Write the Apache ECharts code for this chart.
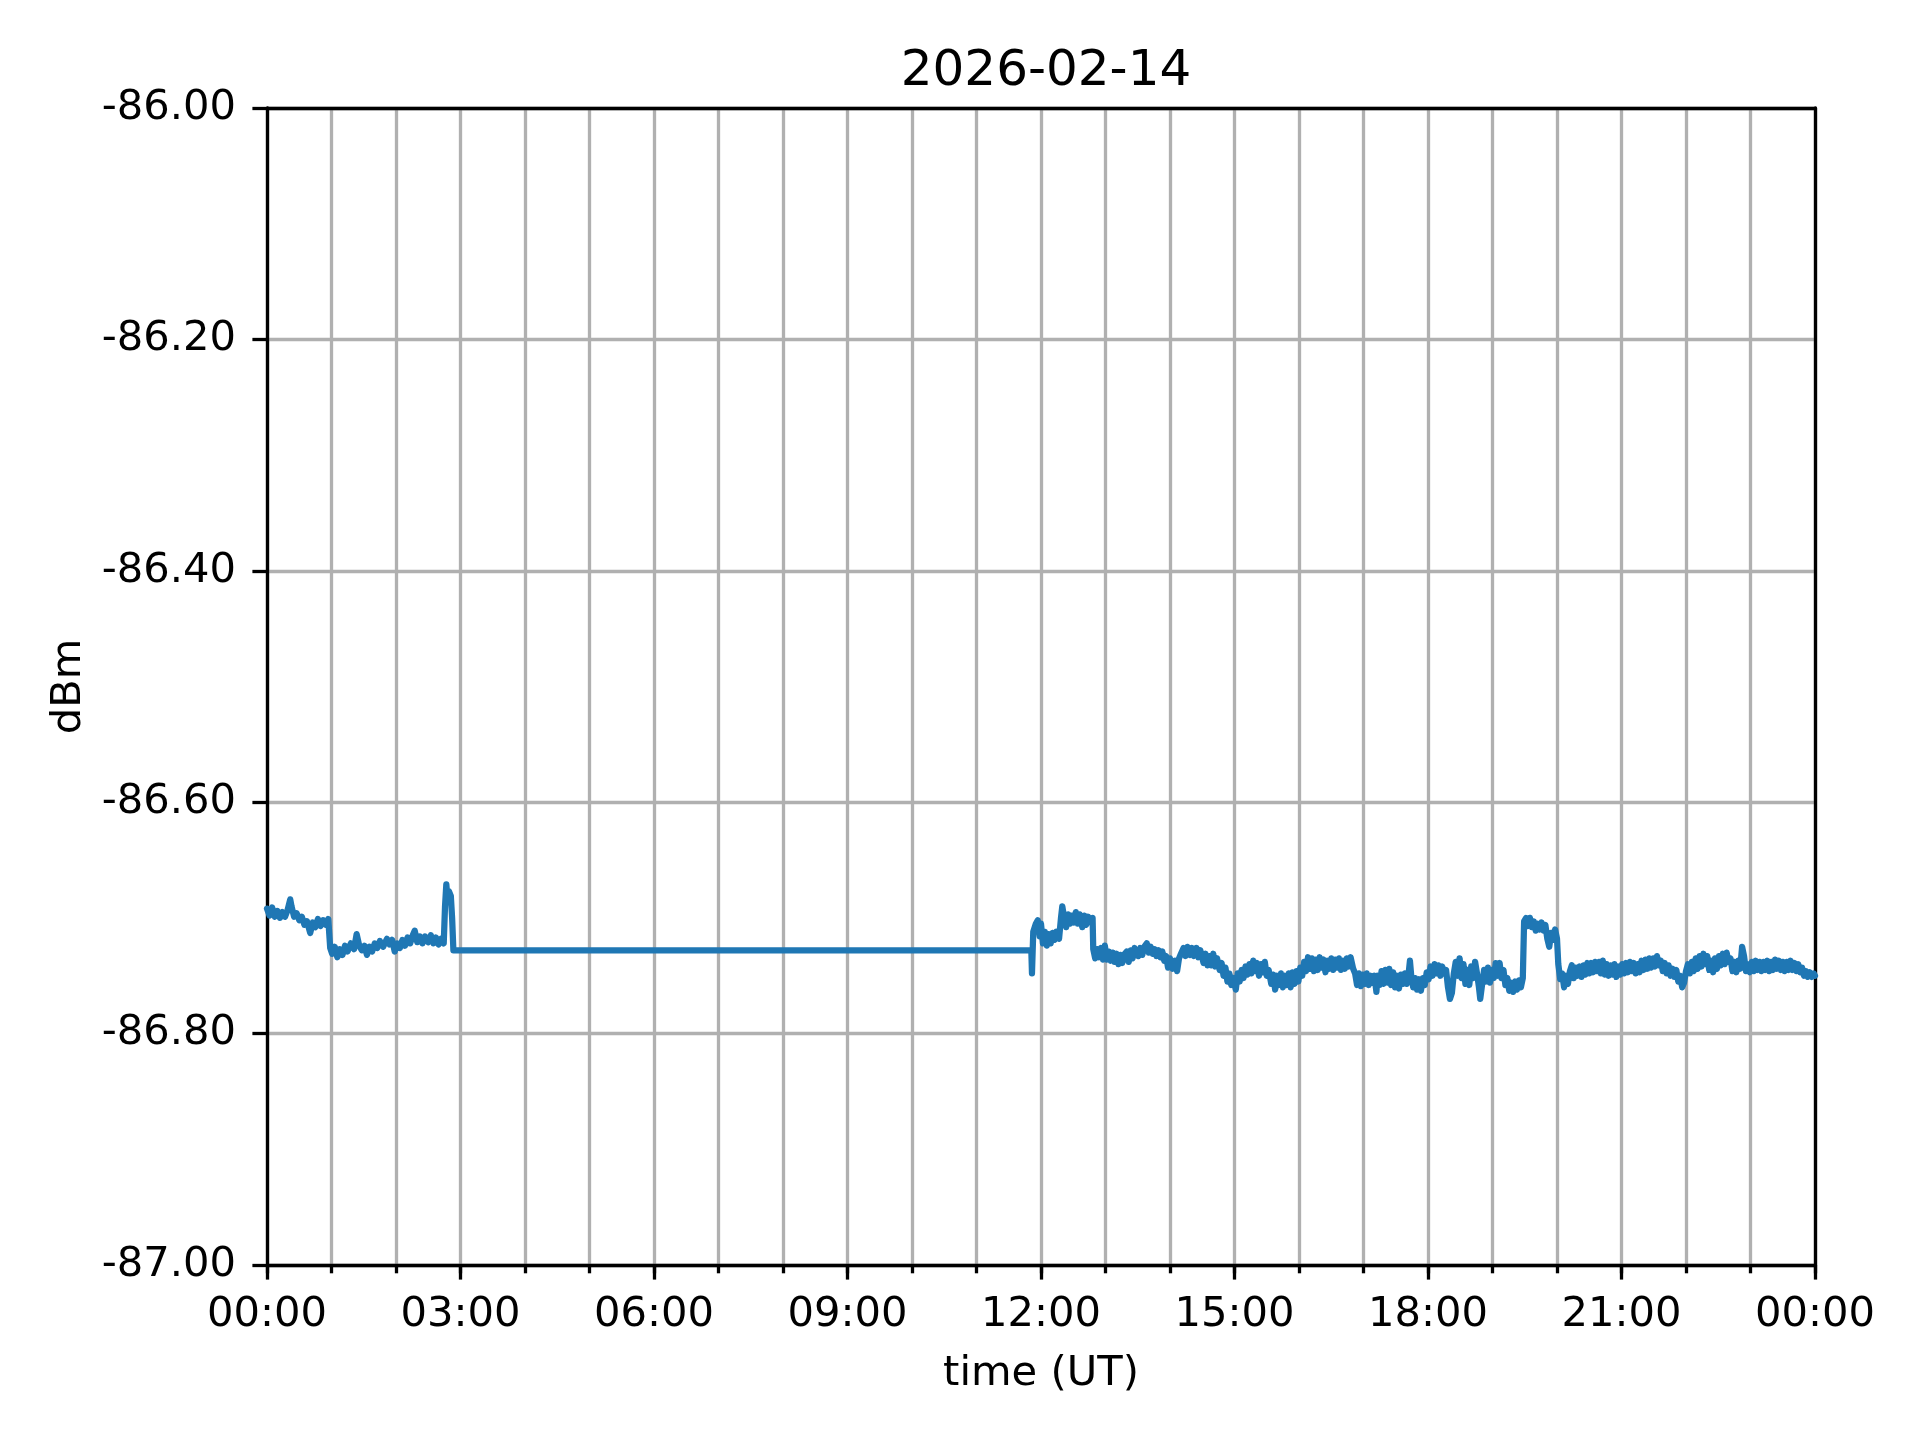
<!DOCTYPE html>
<html>
<head>
<meta charset="utf-8">
<script src="https://cdn.jsdelivr.net/npm/echarts@6/dist/echarts.min.js"></script>
<style>html,body{margin:0;padding:0;background:#fff}#c{width:1920px;height:1440px}</style>
</head>
<body>
<div id="c"></div>
<script>
const title = "2026-02-14";
const xName = "time (UT)";
const yName = "dBm";
const yTicks = [-87.0,-86.8,-86.6,-86.4,-86.2,-86.0];
const xTickHours = [0,3,6,9,12,15,18,21,24];
// readings: [hours since 00:00 UT, dBm]
const morning = [[0.00,-86.692],[0.04,-86.698],[0.08,-86.691],[0.12,-86.699],[0.16,-86.694],[0.20,-86.700],[0.24,-86.695],[0.28,-86.699],[0.32,-86.693],[0.36,-86.684],[0.38,-86.690],[0.42,-86.699],[0.46,-86.696],[0.50,-86.702],[0.54,-86.699],[0.58,-86.706],[0.62,-86.703],[0.67,-86.713],[0.71,-86.704],[0.75,-86.708],[0.79,-86.701],[0.83,-86.707],[0.87,-86.702],[0.91,-86.706],[0.95,-86.701],[0.98,-86.726],[1.01,-86.731],[1.05,-86.725],[1.09,-86.734],[1.13,-86.727],[1.17,-86.732],[1.21,-86.724],[1.25,-86.729],[1.30,-86.722],[1.35,-86.727],[1.39,-86.714],[1.43,-86.724],[1.47,-86.728],[1.51,-86.724],[1.55,-86.732],[1.59,-86.725],[1.63,-86.729],[1.67,-86.722],[1.71,-86.726],[1.75,-86.720],[1.80,-86.725],[1.86,-86.718],[1.90,-86.723],[1.94,-86.719],[1.98,-86.729],[2.02,-86.722],[2.06,-86.726],[2.10,-86.719],[2.14,-86.724],[2.18,-86.717],[2.22,-86.722],[2.26,-86.715],[2.29,-86.711],[2.33,-86.721],[2.37,-86.716],[2.41,-86.722],[2.45,-86.716],[2.50,-86.721],[2.54,-86.715],[2.58,-86.722],[2.62,-86.717],[2.66,-86.723],[2.70,-86.718],[2.74,-86.722],[2.76,-86.690],[2.78,-86.671],[2.80,-86.684],[2.82,-86.677],[2.85,-86.681],[2.87,-86.700],[2.89,-86.728],[11.85,-86.728]];
const midday = [[11.86,-86.748],[11.88,-86.712],[11.92,-86.705],[11.95,-86.702],[11.98,-86.716],[12.00,-86.705],[12.03,-86.722],[12.06,-86.712],[12.09,-86.724],[12.12,-86.714],[12.15,-86.722],[12.18,-86.713],[12.21,-86.719],[12.24,-86.712],[12.28,-86.718],[12.31,-86.700],[12.33,-86.690],[12.36,-86.700],[12.39,-86.708],[12.42,-86.697],[12.45,-86.705],[12.48,-86.698],[12.51,-86.704],[12.54,-86.695],[12.57,-86.705],[12.60,-86.697],[12.64,-86.708],[12.67,-86.698],[12.70,-86.706],[12.73,-86.699],[12.77,-86.704],[12.80,-86.700],[12.81,-86.727],[12.84,-86.735],[12.87,-86.727],[12.90,-86.734],[12.93,-86.726],[12.96,-86.736],[12.99,-86.724],[13.02,-86.736],[13.05,-86.729],[13.08,-86.737],[13.11,-86.730],[13.14,-86.738],[13.17,-86.731],[13.20,-86.740],[13.23,-86.732],[13.26,-86.739],[13.30,-86.731],[13.33,-86.729],[13.36,-86.738],[13.39,-86.728],[13.42,-86.735],[13.45,-86.726],[13.48,-86.725],[13.51,-86.733],[13.54,-86.726],[13.57,-86.732],[13.60,-86.725],[13.64,-86.722],[13.67,-86.730],[13.70,-86.725],[13.73,-86.731],[13.76,-86.727],[13.79,-86.733],[13.82,-86.728],[13.85,-86.734],[13.88,-86.729],[13.91,-86.737],[13.94,-86.733],[13.97,-86.743],[14.00,-86.735],[14.04,-86.744],[14.08,-86.737],[14.11,-86.746],[14.14,-86.735],[14.17,-86.731],[14.21,-86.726],[14.24,-86.733],[14.27,-86.725],[14.31,-86.732],[14.34,-86.726],[14.37,-86.733],[14.41,-86.726],[14.44,-86.734],[14.47,-86.728],[14.52,-86.739],[14.55,-86.731],[14.58,-86.741],[14.61,-86.733],[14.64,-86.741],[14.67,-86.731],[14.70,-86.742],[14.73,-86.735],[14.77,-86.745],[14.80,-86.739],[14.83,-86.750],[14.86,-86.743],[14.89,-86.755],[14.92,-86.748],[14.95,-86.758],[14.98,-86.752],[15.02,-86.762],[15.05,-86.748]];
const afternoon = [[15.08,-86.755],[15.11,-86.745],[15.14,-86.752],[15.17,-86.742],[15.20,-86.749],[15.23,-86.740],[15.26,-86.748],[15.29,-86.737],[15.32,-86.746],[15.35,-86.739],[15.38,-86.750],[15.41,-86.740],[15.44,-86.747],[15.47,-86.738],[15.50,-86.750],[15.53,-86.745],[15.57,-86.757],[15.60,-86.749],[15.63,-86.762],[15.66,-86.750],[15.69,-86.758],[15.72,-86.748],[15.75,-86.760],[15.78,-86.750],[15.81,-86.758],[15.84,-86.748],[15.87,-86.760],[15.90,-86.747],[15.93,-86.757],[15.96,-86.746],[15.99,-86.755],[16.02,-86.743],[16.05,-86.750],[16.08,-86.738],[16.11,-86.746],[16.14,-86.734],[16.17,-86.744],[16.20,-86.735],[16.23,-86.746],[16.26,-86.736],[16.29,-86.745],[16.32,-86.734],[16.35,-86.743],[16.38,-86.736],[16.41,-86.747],[16.44,-86.737],[16.47,-86.744],[16.50,-86.735],[16.53,-86.745],[16.56,-86.736],[16.59,-86.743],[16.62,-86.735],[16.65,-86.745],[16.68,-86.737],[16.71,-86.744],[16.74,-86.735],[16.77,-86.742],[16.80,-86.734],[16.84,-86.744],[16.87,-86.748],[16.90,-86.758],[16.93,-86.748],[16.96,-86.759],[16.99,-86.749],[17.02,-86.757],[17.05,-86.748],[17.08,-86.758],[17.11,-86.750],[17.14,-86.756],[17.17,-86.750],[17.20,-86.764],[17.22,-86.750],[17.25,-86.758],[17.28,-86.746],[17.31,-86.757],[17.34,-86.745],[17.37,-86.756],[17.40,-86.744],[17.43,-86.758],[17.46,-86.747],[17.49,-86.760],[17.52,-86.750],[17.55,-86.761],[17.58,-86.749],[17.61,-86.757],[17.64,-86.748],[17.67,-86.757],[17.70,-86.748],[17.72,-86.737],[17.74,-86.750],[17.77,-86.760],[17.80,-86.752],[17.83,-86.762],[17.86,-86.753],[17.89,-86.763],[17.92,-86.752],[17.95,-86.758],[17.98,-86.747],[18.01,-86.753],[18.04,-86.742],[18.07,-86.750],[18.10,-86.740],[18.13,-86.748],[18.16,-86.741],[18.19,-86.750],[18.22,-86.742],[18.25,-86.748],[18.28,-86.745],[18.31,-86.760],[18.34,-86.770],[18.37,-86.765],[18.40,-86.748],[18.43,-86.738],[18.46,-86.750],[18.49,-86.735],[18.52,-86.752],[18.55,-86.740],[18.58,-86.757],[18.61,-86.745],[18.64,-86.758],[18.67,-86.742],[18.70,-86.752],[18.73,-86.738],[18.76,-86.748],[18.79,-86.760],[18.81,-86.770],[18.84,-86.757],[18.87,-86.745],[18.90,-86.755],[18.93,-86.743],[18.96,-86.756],[18.99,-86.745],[19.02,-86.752],[19.05,-86.739],[19.08,-86.750],[19.11,-86.739],[19.14,-86.752],[19.17,-86.745],[19.20,-86.758],[19.23,-86.752],[19.26,-86.763],[19.29,-86.756],[19.32,-86.764],[19.35,-86.755],[19.38,-86.762],[19.41,-86.754],[19.44,-86.760],[19.47,-86.752]];
const evening = [[19.49,-86.703],[19.52,-86.700],[19.55,-86.707],[19.58,-86.700],[19.61,-86.708],[19.64,-86.703],[19.67,-86.711],[19.70,-86.705],[19.73,-86.710],[19.76,-86.704],[19.79,-86.711],[19.82,-86.706],[19.85,-86.718],[19.88,-86.725],[19.91,-86.713],[19.94,-86.719],[19.97,-86.710],[20.00,-86.718],[20.02,-86.740],[20.05,-86.753],[20.08,-86.748],[20.11,-86.760],[20.14,-86.750],[20.17,-86.757],[20.20,-86.746],[20.23,-86.741],[20.26,-86.752],[20.29,-86.743],[20.32,-86.750],[20.35,-86.742],[20.38,-86.751],[20.41,-86.741],[20.44,-86.749],[20.47,-86.739],[20.50,-86.748],[20.53,-86.739],[20.56,-86.747],[20.59,-86.738],[20.62,-86.746],[20.65,-86.738],[20.68,-86.748],[20.71,-86.737],[20.74,-86.749],[20.77,-86.740],[20.80,-86.750],[20.83,-86.741],[20.86,-86.749],[20.89,-86.740],[20.92,-86.751],[20.95,-86.742],[20.98,-86.749],[21.01,-86.740],[21.04,-86.748],[21.07,-86.739],[21.10,-86.747],[21.13,-86.738],[21.16,-86.746],[21.19,-86.739],[21.22,-86.748],[21.25,-86.740],[21.28,-86.747],[21.31,-86.737],[21.34,-86.745],[21.37,-86.736],[21.40,-86.744],[21.43,-86.735],[21.46,-86.743],[21.49,-86.735],[21.52,-86.742],[21.55,-86.733],[21.58,-86.741],[21.61,-86.737],[21.64,-86.746],[21.67,-86.739],[21.70,-86.748],[21.73,-86.741],[21.76,-86.750],[21.79,-86.744],[21.82,-86.751],[21.85,-86.745],[21.88,-86.755],[21.91,-86.750],[21.94,-86.760],[21.97,-86.756],[22.00,-86.746],[22.03,-86.740],[22.06,-86.748],[22.09,-86.738],[22.12,-86.746],[22.15,-86.735],[22.18,-86.744],[22.21,-86.733],[22.24,-86.742],[22.27,-86.731],[22.30,-86.740],[22.33,-86.733],[22.36,-86.745],[22.39,-86.737],[22.42,-86.747],[22.45,-86.735],[22.48,-86.744],[22.51,-86.733],[22.54,-86.741],[22.57,-86.731],[22.60,-86.740],[22.63,-86.730],[22.66,-86.738],[22.69,-86.735],[22.72,-86.746],[22.75,-86.738],[22.78,-86.747],[22.81,-86.737],[22.84,-86.744],[22.87,-86.725],[22.90,-86.733],[22.93,-86.746],[22.96,-86.740],[22.99,-86.747],[23.02,-86.738],[23.05,-86.746],[23.08,-86.737],[23.11,-86.745],[23.14,-86.738],[23.17,-86.746],[23.20,-86.738],[23.23,-86.745],[23.26,-86.737],[23.29,-86.746],[23.32,-86.738],[23.35,-86.745],[23.38,-86.736],[23.41,-86.744],[23.44,-86.737],[23.47,-86.745],[23.50,-86.738],[23.53,-86.746],[23.56,-86.738],[23.59,-86.745],[23.62,-86.737],[23.65,-86.745],[23.68,-86.739],[23.71,-86.746],[23.74,-86.740],[23.77,-86.747],[23.80,-86.743],[23.83,-86.750],[23.86,-86.746],[23.89,-86.751],[23.92,-86.747],[23.95,-86.751],[23.98,-86.748],[24.00,-86.750]];

const FONT = 'DejaVu Sans';
const LW = 3.3;
const pad = h => String(h % 24).padStart(2,'0') + ':00';
const data = morning.concat(midday, afternoon, evening);
const chart = echarts.init(document.getElementById('c'), null, {renderer:'canvas'});
chart.setOption({
  animation:false,
  backgroundColor:'#fff',
  title:{text:title,left:1041,top:42,textAlign:'center',
    textStyle:{fontFamily:FONT,fontSize:50,fontWeight:'normal',color:'#000'}},
  grid:{left:267,top:108,width:1548,height:1157,containLabel:false},
  xAxis:[
    {type:'value',min:0,max:24,interval:3,position:'bottom',
     name:xName,nameLocation:'middle',nameGap:88,
     nameTextStyle:{fontFamily:FONT,fontSize:41.67,color:'#000'},
     axisLine:{show:true,onZero:false,lineStyle:{color:'#000',width:LW}},
     axisTick:{show:true,length:14.6,lineStyle:{color:'#000',width:LW}},
     axisLabel:{show:true,margin:29,fontFamily:FONT,fontSize:41.67,color:'#000',
       formatter:v=>pad(v),showMinLabel:true,showMaxLabel:true},
     splitLine:{show:false}},
    {type:'value',min:0,max:24,interval:1,position:'bottom',
     axisLine:{show:false,onZero:false},
     axisTick:{show:true,length:8.3,lineStyle:{color:'#000',width:LW}},
     axisLabel:{show:false},
     splitLine:{show:true,lineStyle:{color:'#b0b0b0',width:LW}}},
    {type:'value',min:0,max:24,interval:1,position:'top',
     axisLine:{show:true,onZero:false,lineStyle:{color:'#000',width:LW}},
     axisTick:{show:false},axisLabel:{show:false},splitLine:{show:false}}
  ],
  yAxis:[
    {type:'value',min:-87,max:-86,interval:0.2,position:'left',
     name:yName,nameLocation:'middle',nameGap:177,nameRotate:90,
     nameTextStyle:{fontFamily:FONT,fontSize:41.67,color:'#000'},
     axisLine:{show:true,onZero:false,lineStyle:{color:'#000',width:LW}},
     axisTick:{show:true,length:14.6,lineStyle:{color:'#000',width:LW}},
     axisLabel:{show:true,margin:31,fontFamily:FONT,fontSize:41.67,color:'#000',
       formatter:v=>v.toFixed(2)},
     splitLine:{show:true,lineStyle:{color:'#b0b0b0',width:LW}}},
    {type:'value',min:-87,max:-86,interval:0.2,position:'right',
     axisLine:{show:true,onZero:false,lineStyle:{color:'#000',width:LW}},
     axisTick:{show:false},axisLabel:{show:false},splitLine:{show:false}}
  ],
  series:[{type:'line',xAxisIndex:0,yAxisIndex:0,data:data,showSymbol:false,
    lineStyle:{color:'#1f77b4',width:6.25,join:'round',cap:'round'},clip:true,z:3}]
});
</script>
</body>
</html>
